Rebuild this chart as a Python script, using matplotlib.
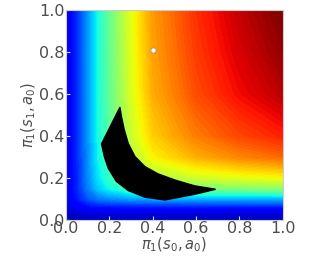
import numpy as np
import matplotlib
matplotlib.use("Agg")
import matplotlib.pyplot as plt
from matplotlib.patches import Polygon

xs = [0.0, 0.05, 0.1, 0.15, 0.2, 0.3, 0.4, 0.5, 0.6, 0.8, 1.0]
ys = [0.0, 0.03, 0.06, 0.1, 0.15, 0.2, 0.3, 0.4, 0.6, 0.8, 1.0]

# normalised value surface, one row per ys entry (bottom to top)
z_rows = [
    [0.044, 0.048, 0.049, 0.050, 0.050, 0.050, 0.050, 0.050, 0.050, 0.050, 0.050],
    [0.060, 0.072, 0.077, 0.079, 0.079, 0.080, 0.080, 0.080, 0.080, 0.080, 0.080],
    [0.076, 0.106, 0.125, 0.133, 0.135, 0.138, 0.139, 0.139, 0.140, 0.140, 0.140],
    [0.087, 0.143, 0.205, 0.244, 0.261, 0.281, 0.290, 0.293, 0.295, 0.298, 0.300],
    [0.089, 0.155, 0.247, 0.325, 0.372, 0.436, 0.471, 0.484, 0.497, 0.511, 0.520],
    [0.090, 0.157, 0.257, 0.349, 0.409, 0.500, 0.555, 0.577, 0.598, 0.623, 0.640],
    [0.090, 0.159, 0.265, 0.370, 0.443, 0.566, 0.650, 0.686, 0.723, 0.768, 0.800],
    [0.090, 0.159, 0.267, 0.377, 0.455, 0.591, 0.689, 0.732, 0.777, 0.834, 0.875],
    [0.090, 0.160, 0.269, 0.382, 0.464, 0.612, 0.724, 0.774, 0.828, 0.898, 0.950],
    [0.090, 0.160, 0.270, 0.384, 0.468, 0.620, 0.737, 0.790, 0.847, 0.923, 0.980],
    [0.090, 0.160, 0.270, 0.385, 0.470, 0.625, 0.745, 0.800, 0.860, 0.940, 1.000],
]

# black region outline (x, y)
region_x = [0.249, 0.164, 0.177, 0.195, 0.233, 0.287, 0.364, 0.456, 0.594, 0.690,
            0.594, 0.502, 0.425, 0.364, 0.318, 0.287, 0.269, 0.256]
region_y = [0.537, 0.362, 0.302, 0.246, 0.183, 0.140, 0.108, 0.095, 0.122, 0.146,
            0.162, 0.190, 0.219, 0.254, 0.302, 0.365, 0.429, 0.492]

# marked policy
point_x = [0.40]
point_y = [0.81]

ticks = [0.0, 0.2, 0.4, 0.6, 0.8, 1.0]

fig = plt.figure(figsize=(3.2, 2.56), dpi=100)
ax = fig.add_axes([0.206, 0.141, 0.678, 0.82])

X, Y = np.meshgrid(xs, ys)
ax.contourf(X, Y, np.array(z_rows), levels=np.linspace(0, 1, 101), cmap="jet")

ax.add_patch(Polygon(np.column_stack([region_x, region_y]), closed=True,
                     facecolor="black", edgecolor="black", zorder=3))
ax.scatter(point_x, point_y, s=14, c="white", edgecolors="#999999",
           linewidths=0.6, zorder=4)

ax.set_xlim(0, 1)
ax.set_ylim(0, 1)
ax.set_xticks(ticks)
ax.set_yticks(ticks)
ax.tick_params(labelsize=11.5, labelcolor="#4d4d4d", color="#dddddd",
               length=3, direction="in", pad=1)
for sp in ax.spines.values():
    sp.set_color("#cccccc")

ax.set_xlabel(r"$\pi_1(s_0, a_0)$", fontsize=10.5, color="#4d4d4d", labelpad=-0.5)
ax.set_ylabel(r"$\pi_1(s_1, a_0)$", fontsize=10.5, color="#4d4d4d", labelpad=0.5)

fig.savefig("out.png", dpi=100)
